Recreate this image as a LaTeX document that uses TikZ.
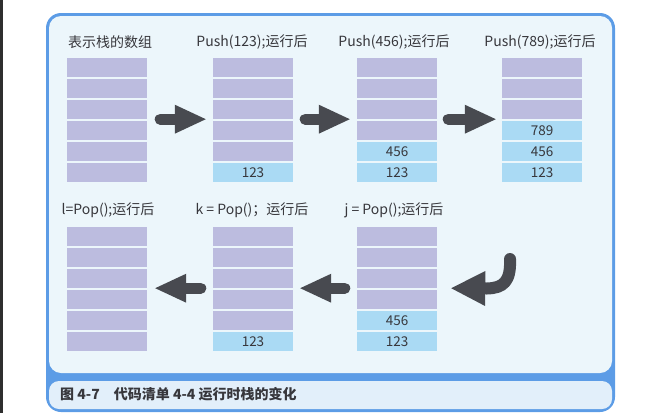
\documentclass[tikz,border=0pt]{standalone}
\usepackage{fontspec}
\setmainfont{Noto Sans CJK SC}
\usetikzlibrary{arrows.meta}
\definecolor{frameblue}{RGB}{92,156,230}
\definecolor{panelbg}{RGB}{236,246,251}
\definecolor{capbg}{RGB}{226,239,250}
\definecolor{slotfill}{RGB}{188,188,223}
\definecolor{fullfill}{RGB}{170,218,244}
\definecolor{arrowgray}{RGB}{72,74,80}
\definecolor{textgray}{RGB}{55,55,60}
\begin{document}
\begin{tikzpicture}[
    x=1pt, y=-1pt,
    font=\fontsize{14}{16}\selectfont, text=textgray,
    slot/.style={fill=slotfill, minimum width=80pt, minimum height=19pt, inner sep=0pt},
    full/.style={slot, fill=fullfill, font=\fontsize{13.5}{15}\selectfont},
    head/.style={inner sep=0pt},
    move/.style={color=arrowgray, line width=11pt, line cap=round, line join=round, -{Triangle[length=31pt, width=29pt, line width=0pt]}}
]
\useasboundingbox (0,0) rectangle (667,413);
\fill[black!82] (0,0) rectangle (3,413);
\fill[frameblue, rounded corners=15pt] (46,13) rectangle (615,412);
\fill[panelbg, rounded corners=12pt] (49,16) rectangle (612,373);
\fill[capbg, rounded corners=10pt] (49,381) rectangle (612,409);
\node[head, anchor=west, font=\bfseries\fontsize{14}{16}\selectfont] (cap) at (60,394) {图 4-7　代码清单 4-4 运行时栈的变化};

\node[head] (arrt) at (110,42) {表示栈的数组};
\node[head] (p1t) at (252,42) {Push(123);运行后};
\node[head] (p2t) at (394,42) {Push(456);运行后};
\node[head] (p3t) at (540,42) {Push(789);运行后};
\node[head] (q1t) at (394,210) {j = Pop();运行后};
\node[head] (q2t) at (252,210) {k = Pop()；运行后};
\node[head] (q3t) at (108,210) {l=Pop();运行后};

\foreach \r in {1,...,6} \node[slot] (arr-\r) at (107,{46.5+21*\r}) {};
\foreach \r in {1,...,5} \node[slot] (p1-\r) at (253,{46.5+21*\r}) {};
\node[full] (p1-6) at (253,172.5) {123};
\foreach \r in {1,...,4} \node[slot] (p2-\r) at (397,{46.5+21*\r}) {};
\node[full] (p2-5) at (397,151.5) {456};
\node[full] (p2-6) at (397,172.5) {123};
\foreach \r in {1,...,3} \node[slot] (p3-\r) at (542,{46.5+21*\r}) {};
\node[full] (p3-4) at (542,130.5) {789};
\node[full] (p3-5) at (542,151.5) {456};
\node[full] (p3-6) at (542,172.5) {123};

\foreach \r in {1,...,4} \node[slot] (q1-\r) at (397,{215.5+21*\r}) {};
\node[full] (q1-5) at (397,320.5) {456};
\node[full] (q1-6) at (397,341.5) {123};
\foreach \r in {1,...,5} \node[slot] (q2-\r) at (253,{215.5+21*\r}) {};
\node[full] (q2-6) at (253,341.5) {123};
\foreach \r in {1,...,6} \node[slot] (q3-\r) at (107,{215.5+21*\r}) {};

\coordinate (turn) at (510,259);

\draw[move] ([xshift=13pt]arr-3.south east) -- ([xshift=-7pt]p1-3.south west);
\draw[move] ([xshift=12pt]p1-3.south east) -- ([xshift=-7pt]p2-3.south west);
\draw[move] ([xshift=11pt]p2-3.south east) -- ([xshift=-6pt]p3-3.south west);
\draw[move, line width=12pt, -{Triangle[length=34pt, width=35pt, line width=0pt]}] (turn) .. controls (511,282) and (503,288) .. (487,288.5) -- ([xshift=14pt]q1-3.south east);
\draw[move] ([xshift=-12pt]q1-3.south west) -- ([xshift=7pt]q2-3.south east);
\draw[move] ([xshift=-12pt]q2-3.south west) -- ([xshift=8pt]q3-3.south east);
\end{tikzpicture}
\end{document}
